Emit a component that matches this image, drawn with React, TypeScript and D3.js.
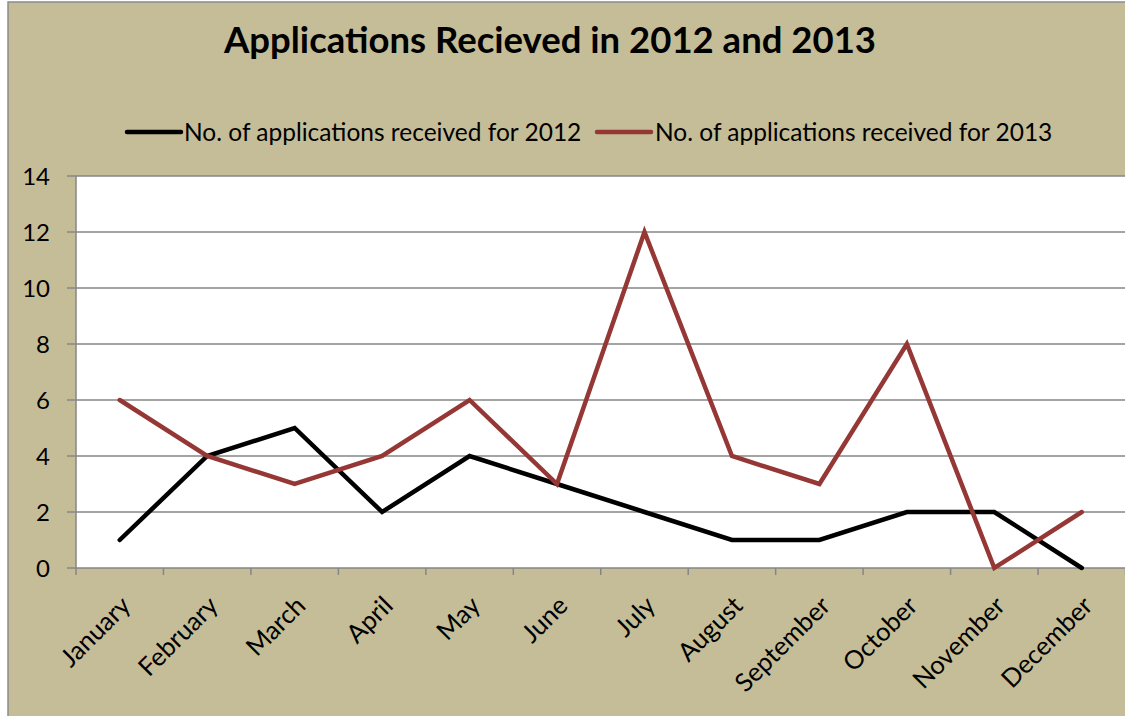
import React from "react";
import * as d3 from "d3";

const months = ["January","February","March","April","May","June","July","August","September","October","November","December"];
const apps2012 = [1,4,5,2,4,3,2,1,1,2,2,0];
const apps2013 = [6,4,3,4,6,3,12,4,3,8,0,2];
const yTicks = [0,2,4,6,8,10,12,14];
const seriesNames = ["No. of applications received for 2012","No. of applications received for 2013"];
const seriesColors = ["#000000","#953735"];

const W = 1125, H = 716;
const plotL = 76, plotR = 1125.5, plotT = 176, plotB = 568;
const FONT = "Lato, 'Open Sans', sans-serif";

export default function App() {
  const x = d3.scaleBand<string>().domain(months).range([plotL, plotR]).padding(0);
  const y = d3.scaleLinear().domain([0, 14]).range([plotB, plotT]);
  const cx = (m: string) => (x(m) as number) + x.bandwidth() / 2;
  const line = d3.line<number>().x((_, i) => cx(months[i])).y(d => y(d));
  const series = [apps2012, apps2013];
  const gridColor = "#868686";
  return (
    <svg width={W} height={H} style={{ position: "absolute", left: 0, top: 0 }} fontFamily={FONT}>
      <rect x={0} y={0} width={W} height={H} fill="#ffffff" />
      <rect x={8} y={2} width={W + 10} height={H + 10} fill="#C4BD97" stroke="#8c8c8c" strokeWidth={1.5} />
      <rect x={plotL} y={plotT} width={plotR - plotL} height={plotB - plotT} fill="#ffffff" />
      {yTicks.map(t => (
        <g key={t}>
          <line x1={plotL - 9} x2={plotR} y1={y(t)} y2={y(t)} stroke={gridColor} strokeWidth={1.5} />
          <text x={50} y={y(t)} dy="0.36em" textAnchor="end" fontSize={24} fill="#000">{t}</text>
        </g>
      ))}
      <line x1={plotL} x2={plotL} y1={plotT} y2={plotB} stroke={gridColor} strokeWidth={1.5} />
      {months.map((m, i) => (
        <line key={m} x1={x(m) as number} x2={x(m) as number} y1={plotB} y2={plotB + 7} stroke={gridColor} strokeWidth={1.5} />
      ))}
      <line x1={plotR} x2={plotR} y1={plotB} y2={plotB + 7} stroke={gridColor} strokeWidth={1.5} />
      {months.map(m => (
        <text key={m} transform={`translate(${cx(m) + 6},${plotB + 33}) rotate(-45)`} textAnchor="end" dy="0.35em" fontSize={25.5} fill="#000">{m}</text>
      ))}
      {series.map((s, k) => (
        <path key={k} d={line(s) || ""} fill="none" stroke={seriesColors[k]} strokeWidth={4.5} strokeLinejoin="miter" strokeLinecap="round" />
      ))}
      <text x={550} y={53} textAnchor="middle" fontSize={36.5} fontWeight="bold" fill="#000">Applications Recieved in 2012 and 2013</text>
      {[{ lx: 127, tx: 184 }, { lx: 597, tx: 655 }].map((p, k) => (
        <g key={k}>
          <line x1={p.lx} x2={p.lx + 54} y1={132} y2={132} stroke={seriesColors[k]} strokeWidth={4.5} strokeLinecap="round" />
          <text x={p.tx} y={132} dy="0.35em" fontSize={24.5} fill="#000">{seriesNames[k]}</text>
        </g>
      ))}
    </svg>
  );
}
